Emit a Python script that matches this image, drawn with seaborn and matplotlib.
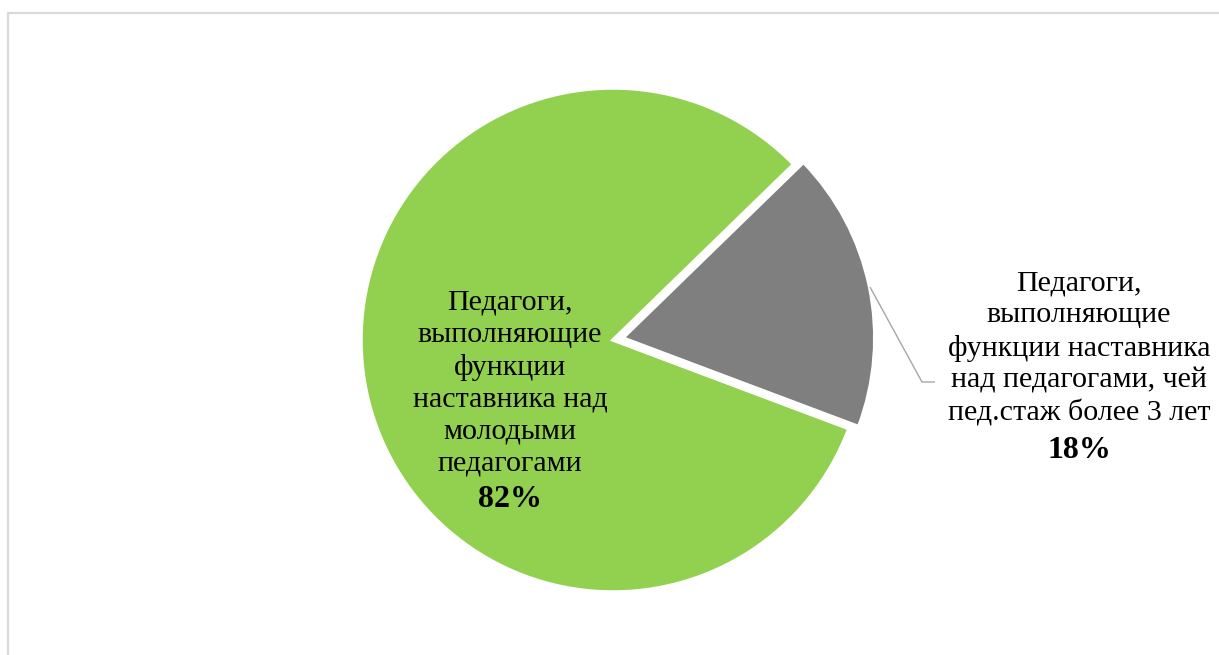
import matplotlib
matplotlib.use("Agg")
import matplotlib.pyplot as plt
from matplotlib.patches import Rectangle
import seaborn as sns

# Share of mentoring teachers by type of mentoring
categories = [
    "Педагоги,\nвыполняющие\nфункции\nнаставника над\nмолодыми\nпедагогами",
    "Педагоги,\nвыполняющие\nфункции наставника\nнад педагогами, чей\nпед.стаж более 3 лет",
]
shares = [82, 18]
slice_colors = ["#92D050", "#7F7F7F"]

sns.set_theme(style="white")
plt.rcParams["font.family"] = ["Liberation Serif", "DejaVu Serif"]

W, H = 1219, 655
fig = plt.figure(figsize=(W / 100, H / 100), dpi=100)
ax = fig.add_axes([0, 0, 1, 1])


def fy(y):
    """Convert a top-down pixel row into the axes' bottom-up units."""
    return H - y


cx, cy, r = 613, fy(340), 252
ax.pie(
    shares,
    colors=slice_colors,
    startangle=44.2,
    counterclock=True,
    explode=[0, 10],
    radius=r,
    center=(cx, cy),
    wedgeprops=dict(edgecolor="white", linewidth=2.5),
)
ax.set_xlim(0, W)
ax.set_ylim(0, H)
ax.set_aspect("equal")
ax.axis("off")

# Chart-area frame (extends past the right and bottom edges)
frame = Rectangle((8, fy(13) - 800), W + 200, 800, fill=False,
                  edgecolor="#D9D9D9", linewidth=1.6, clip_on=False)
ax.add_patch(frame)

fs = 21.6
ls = 1.3
# Inside label for the large slice
ax.text(510, fy(471), categories[0], ha="center", va="baseline",
        fontsize=fs, color="black", linespacing=ls)
ax.text(510, fy(507), f"{shares[0]}%", ha="center", va="baseline",
        fontsize=23, fontweight="bold", color="black")

# Outside label for the small slice, with a leader line
ax.text(1079, fy(421), categories[1], ha="center", va="baseline",
        fontsize=fs, color="black", linespacing=ls)
ax.text(1079, fy(458), f"{shares[1]}%", ha="center", va="baseline",
        fontsize=23, fontweight="bold", color="black")
ax.plot([870, 922, 935], [fy(287), fy(382), fy(382)], color="#A6A6A6",
        linewidth=1.0, solid_capstyle="butt")

fig.savefig("out.png", dpi=100)
